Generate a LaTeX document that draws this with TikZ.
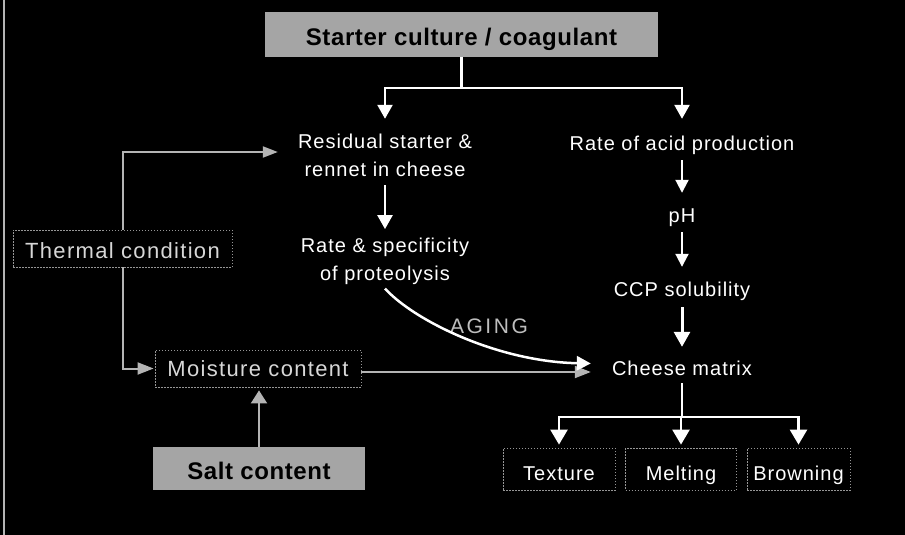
\documentclass[tikz,border=0pt]{standalone}
\usepackage{fontspec}
\setmainfont{Liberation Sans}
\newfontfamily\mainf[LetterSpace=5]{Liberation Sans}
\newfontfamily\boxf[LetterSpace=6]{Liberation Sans}
\newfontfamily\agingf[LetterSpace=12]{Liberation Sans}
\newfontfamily\titlef[LetterSpace=2.5]{Liberation Sans}
\usetikzlibrary{arrows.meta}
\definecolor{boxgray}{RGB}{165,165,165}
\definecolor{linegray}{RGB}{180,180,180}
\definecolor{textgray}{RGB}{215,215,215}
\definecolor{aginggray}{RGB}{190,190,190}
\definecolor{dotgray}{RGB}{150,150,150}
\begin{document}
\begin{tikzpicture}[x=1pt,y=-1pt,
  txt/.style={font=\mainf\fontsize{20}{28}\selectfont, text=white, inner sep=0pt, align=center},
  one/.style={txt, text height=15pt, text depth=0pt, anchor=base},
  graybox/.style={fill=boxgray, inner sep=0pt, font=\titlef\bfseries\fontsize{24}{28}\selectfont, text=black},
  dotbox/.style={draw=dotgray, dash pattern=on 1.5pt off 1.5pt, line width=0.8pt, inner sep=0pt},
  lbox/.style={dotbox, font=\boxf\fontsize{22}{26}\selectfont, text=textgray},
  wl/.style={draw=white, line width=2.5pt},
  warr/.style={wl, -{Triangle[width=15pt,length=14pt]}},
  warrb/.style={draw=white, line width=2pt, -{Triangle[width=13pt,length=13pt]}},
  warrc/.style={draw=white, line width=3pt, -{Triangle[width=16pt,length=15pt]}},
  warrd/.style={wl, -{Triangle[width=17pt,length=15pt]}},
  gl/.style={draw=linegray, line width=2pt},
  garr/.style={gl, -{Triangle[width=11pt,length=15pt]}},
  garrb/.style={gl, -{Triangle[width=12pt,length=16pt]}},
  garrc/.style={gl, -{Triangle[width=16pt,length=13pt]}},
  agingarr/.style={draw=white, line width=2.5pt, -{Triangle[width=14pt,length=14pt]}}
]
\useasboundingbox (0,0) rectangle (905,535);
\fill[black] (0,0) rectangle (905,535);
\draw[linegray, line width=1.2pt] (4,0) -- (4,535);

% nodes
\node[graybox, minimum width=393pt, minimum height=45pt, text height=23pt, text depth=0pt] (top) at (461.5,34.5) {Starter culture / coagulant};
\node[graybox, minimum width=212pt, minimum height=43pt, text height=21pt, text depth=0pt] (salt) at (259,468.5) {Salt content};
\node[lbox, minimum width=219pt, minimum height=37pt, text height=19pt, text depth=0pt] (therm) at (122.5,248.5) {Thermal condition};
\node[lbox, minimum width=206pt, minimum height=37pt, text height=15pt, text depth=0pt] (moist) at (258,368.5) {Moisture content};

\node[txt] (res) at (385,155.7) {Residual starter \&\\rennet in cheese};
\node[txt] (rate) at (385,261) {Rate \& specificity\\of proteolysis};
\node[one] (acid) at (682,150) {Rate of acid production};
\node[one] (ph) at (682,222) {pH};
\node[one] (ccp) at (682,296) {CCP solubility};
\node[one, text depth=2pt] (cm) at (682,375) {Cheese matrix};

\node[txt, dotbox, minimum width=112pt, minimum height=42pt, text height=22pt, text depth=0pt] (tex) at (559,469) {Texture};
\node[txt, dotbox, minimum width=111pt, minimum height=42pt, text height=22pt, text depth=0pt] (melt) at (681,469) {Melting};
\node[txt, dotbox, minimum width=103pt, minimum height=42pt, text height=22pt, text depth=0pt] (brown) at (798.5,469) {Browning};

\node[font=\agingf\fontsize{21}{24}\selectfont, text=aginggray, inner sep=0pt, anchor=base] (aging) at (489,333) {AGING};

% helper coordinates
\coordinate (j1) at ([yshift=-31pt]top.south);
\coordinate (j2) at ([yshift=-40pt]cm.south);
\path ([yshift=-3.5pt]moist.east) coordinate (m1);
\path ([shift={(-21pt,5pt)}]cm.west) coordinate (m2);

% white connectors
\draw[wl] (top.south) -- (j1);
\draw[warr, shorten >=15.4pt] (j1) -| (res.north);
\draw[warr, shorten >=16pt] (j1) -| (acid.north);
\draw[warr, shorten <=8pt, shorten >=8.4pt] (res.south) -- (rate.north);
\draw[warrb, shorten <=10pt, shorten >=14pt] (acid.south) -- (ph.north);
\draw[warrb, shorten <=10pt, shorten >=14pt] (ph.south) -- (ccp.north);
\draw[warrc, shorten <=11pt, shorten >=13pt] (ccp.south) -- (cm.north);
\draw[wl, shorten <=6pt] (cm.south) -- (j2);
\draw[warrd, shorten >=3pt] (j2) -| (tex.north);
\draw[warrd, shorten >=3pt] (j2) -| (melt.north);
\draw[warrd, shorten >=3pt] (j2) -| (brown.north);

% gray connectors
\draw[garr, shorten >=20pt] (therm.north) |- ([yshift=3.7pt]res.west);
\draw[garrb, shorten >=1pt] (therm.south) |- (moist.west);
\draw[garrc, shorten >=3pt] (salt.north) -- (salt.north |- moist.south);
\draw[garrb] (m1) -- (m1 -| m2);

% aging curve
\draw[agingarr] ([yshift=-4pt]rate.south) .. controls +(28,31) and +(-95,-2) .. (m2);
\end{tikzpicture}
\end{document}
